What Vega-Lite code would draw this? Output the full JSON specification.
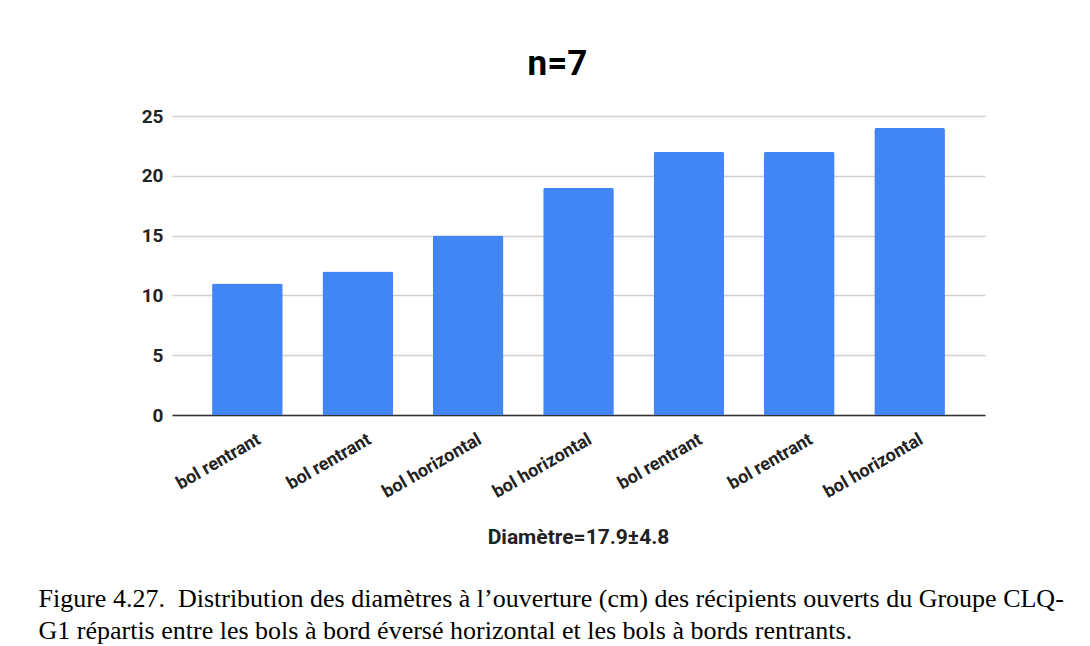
{
  "$schema": "https://vega.github.io/schema/vega-lite/v6.json",
  "width": 813,
  "height": 299,
  "autosize": {"type": "none"},
  "padding": {"left": 172, "top": 116, "right": 105, "bottom": 231},
  "background": "white",
  "title": {
    "text": "n=7",
    "font": "Roboto",
    "fontSize": 35,
    "fontWeight": "bold",
    "color": "#000000",
    "anchor": "middle",
    "frame": "group",
    "baseline": "alphabetic",
    "dx": -21,
    "offset": -3
  },
  "data": {
    "values": [
      {"cat": "bol rentrant#1", "diam": 11},
      {"cat": "bol rentrant#2", "diam": 12},
      {"cat": "bol horizontal#3", "diam": 15},
      {"cat": "bol horizontal#4", "diam": 19},
      {"cat": "bol rentrant#5", "diam": 22},
      {"cat": "bol rentrant#6", "diam": 22},
      {"cat": "bol horizontal#7", "diam": 24}
    ]
  },
  "layer": [
    {
      "mark": {"type": "bar", "color": "#4285F4", "cornerRadiusTopLeft": 2, "cornerRadiusTopRight": 2},
      "encoding": {
        "x": {
          "field": "cat",
          "type": "nominal",
          "sort": null,
          "scale": {"paddingInner": 0.36, "paddingOuter": 0.363},
          "axis": {
            "orient": "bottom",
            "title": "Diamètre=17.9±4.8",
            "titleFont": "Roboto",
            "titleFontSize": 21,
            "titleFontWeight": "bold",
            "titleColor": "#222222",
            "titleX": 406,
            "titleY": 128,
            "titleAlign": "center",
            "titleBaseline": "alphabetic",
            "labelExpr": "split(datum.value, '#')[0]",
            "labelAngle": -30,
            "labelAlign": "right",
            "labelBaseline": "middle",
            "labelOffset": 12,
            "labelPadding": 23,
            "labelFont": "Roboto",
            "labelFontSize": 18,
            "labelFontWeight": "bold",
            "labelColor": "#222222",
            "ticks": false,
            "domain": true,
            "domainColor": "#333333",
            "domainWidth": 1.5,
            "grid": false
          }
        },
        "y": {
          "field": "diam",
          "type": "quantitative",
          "scale": {"domain": [0, 25]},
          "axis": {
            "title": null,
            "values": [0, 5, 10, 15, 20, 25],
            "labelFont": "Roboto",
            "labelFontSize": 19,
            "labelFontWeight": "bold",
            "labelColor": "#222222",
            "labelPadding": 9,
            "ticks": false,
            "domain": false,
            "grid": true,
            "gridColor": "#d0d0d0",
            "gridWidth": 1.5
          }
        }
      }
    },
    {
      "mark": {"type": "bar", "opacity": 0},
      "encoding": {
        "x": {
          "field": "cat",
          "type": "nominal",
          "sort": null,
          "axis": {
            "orient": "top",
            "labels": false,
            "ticks": false,
            "domain": false,
            "grid": false,
            "title": [
              "Figure 4.27.\u00a0 Distribution des diamètres à l’ouverture (cm) des récipients ouverts du Groupe CLQ-",
              "G1 répartis entre les bols à bord éversé horizontal et les bols à bords rentrants."
            ],
            "titleFont": "Liberation Serif",
            "titleFontSize": 26,
            "titleFontWeight": "normal",
            "titleColor": "#000000",
            "titleAlign": "left",
            "titleAnchor": "start",
            "titleBaseline": "alphabetic",
            "titleLineHeight": 32,
            "titleX": -134,
            "titleY": 490
          }
        }
      }
    }
  ],
  "resolve": {"axis": {"x": "independent"}},
  "config": {"view": {"stroke": null}}
}
